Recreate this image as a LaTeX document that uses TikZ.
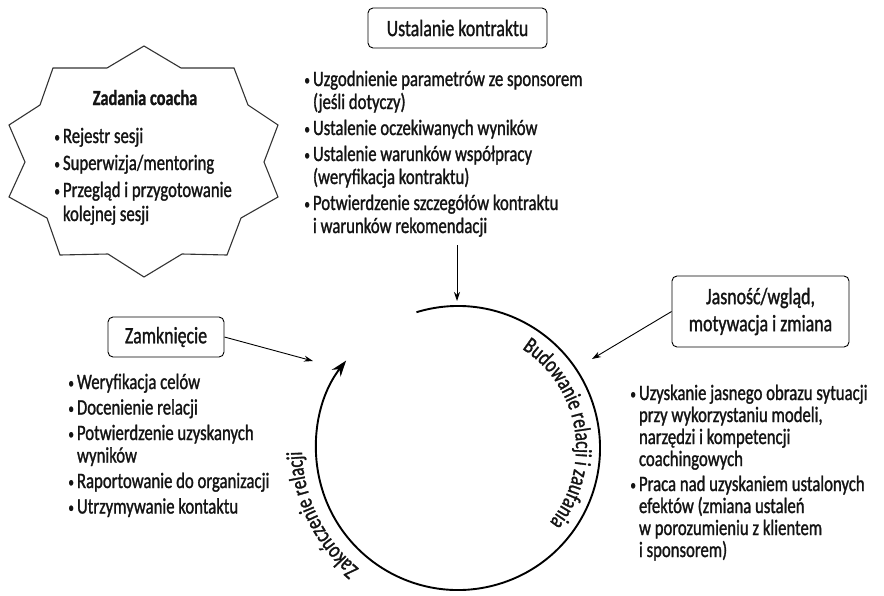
\documentclass[tikz,border=0pt]{standalone}
\usepackage{fontspec}
\setmainfont{Carlito}[FakeStretch=0.76,FakeBold=1.2]
\usetikzlibrary{arrows.meta,decorations.text}
\definecolor{ink}{HTML}{141414}
\definecolor{starink}{HTML}{333333}
\newcommand\mybul{\makebox[0pt][r]{\raisebox{1pt}{\fontsize{15}{15}\selectfont •}\hspace{3pt}}}
\newcommand\li[1]{\hbox{\mybul#1}}
\newcommand\lc[1]{\hbox{#1}}
\newcommand\gap{\vskip3pt}
\newcommand\lst[2]{\vtop{\baselineskip=#1\lineskiplimit=-100pt\lineskip=0pt #2}}
\newcommand\circfont{\fontsize{23}{23}\selectfont\color{ink}}
\begin{document}
\begin{tikzpicture}[x=1pt,y=-1pt,
  listtext/.style={anchor=base west, inner sep=0pt, outer sep=0pt, text=ink, font=\fontsize{22}{23}\selectfont},
  titlebox/.style={draw, rounded corners=5pt, line width=0.9pt, text=ink, font=\fontsize{23.5}{27}\selectfont, align=center, inner sep=0pt},
  conn/.style={line width=0.9pt, -{Stealth[length=9pt,width=6pt]}},
  cycleline/.style={line width=1.9pt, -{Stealth[length=16pt,width=11pt]}},
  starline/.style={draw=starink, line width=1.1pt, line join=miter},
]
\fill[white] (0,0) rectangle (884,595);
\useasboundingbox (0,0) rectangle (884,595);

% star
\draw[starline] (144,46) -- (181,68) -- (234,68) -- (248,105) -- (278,125) -- (264,162) -- (278,197) -- (241,218) -- (227,255) -- (182,254) -- (144,277) -- (108,254) -- (60,255) -- (47,218) -- (9,197) -- (25,162) -- (9,125) -- (40,105) -- (53,68) -- (107,68) -- cycle;
\node[anchor=base, inner sep=0pt, text=ink, font=\bfseries\fontsize{21.5}{23}\selectfont] (zt) at (145,105) {Zadania coacha};
\node[listtext] (sl) at (63,143) {\lst{24pt}{\li{Rejestr sesji}\gap\li{Superwizja/mentoring}\gap\li{Przegląd i przygotowanie}\lc{kolejnej sesji}}};

% boxes
\node[titlebox, minimum width=179pt, minimum height=40pt] (ub) at (457.5,28) {Ustalanie kontraktu};
\node[titlebox, minimum width=116pt, minimum height=40pt] (zb) at (166,337) {Zamknięcie};
\node[titlebox, minimum width=177pt, minimum height=71pt] (jb) at (760.5,311.5) {Jasność/wgląd,\\motywacja i zmiana};

% lists
\node[listtext] (tl) at (313,86) {\lst{23pt}{\li{Uzgodnienie parametrów ze sponsorem}\lc{(jeśli dotyczy)}\gap\li{Ustalenie oczekiwanych wyników}\gap\li{Ustalenie warunków współpracy}\lc{(weryfikacja kontraktu)}\gap\li{Potwierdzenie szczegółów kontraktu}\lc{i warunków rekomendacji}}};
\node[listtext] (ll) at (77,389) {\lst{22.5pt}{\li{Weryfikacja celów}\gap\li{Docenienie relacji}\gap\li{Potwierdzenie uzyskanych}\lc{wyników}\gap\li{Raportowanie do organizacji}\gap\li{Utrzymywanie kontaktu}}};
\node[listtext] (rl) at (639,400) {\lst{22pt}{\li{Uzyskanie jasnego obrazu sytuacji}\lc{przy wykorzystaniu modeli,}\lc{narzędzi i kompetencji}\lc{coachingowych}\gap\li{Praca nad uzyskaniem ustalonych}\lc{efektów (zmiana ustaleń}\lc{w porozumieniu z klientem}\lc{i sponsorem)}}};

% cycle
\coordinate (c) at (458,448);
\draw[cycleline] (c) ++(-107:142) arc[start angle=-107, end angle=218, radius=142];
\path[decorate, decoration={text along path, text align=center, text={|\circfont|Budowanie relacji i zaufania}}] (c) ++(-75:118) arc[start angle=-75, end angle=57, radius=118];
\path[decorate, decoration={text along path, text align=center, text={|\circfont|Zakończenie relacji}}] (c) ++(-240:156) arc[start angle=-240, end angle=-172, radius=156];

% connectors
\coordinate (ta) at (457,245);
\coordinate (tb) at (457,301);
\coordinate (za) at (313,361);
\coordinate (ja) at (592,359);
\draw[conn] (ta) -- (tb);
\draw[conn] (zb.east) -- (za);
\draw[conn] (jb.west) -- (ja);
\end{tikzpicture}
\end{document}
